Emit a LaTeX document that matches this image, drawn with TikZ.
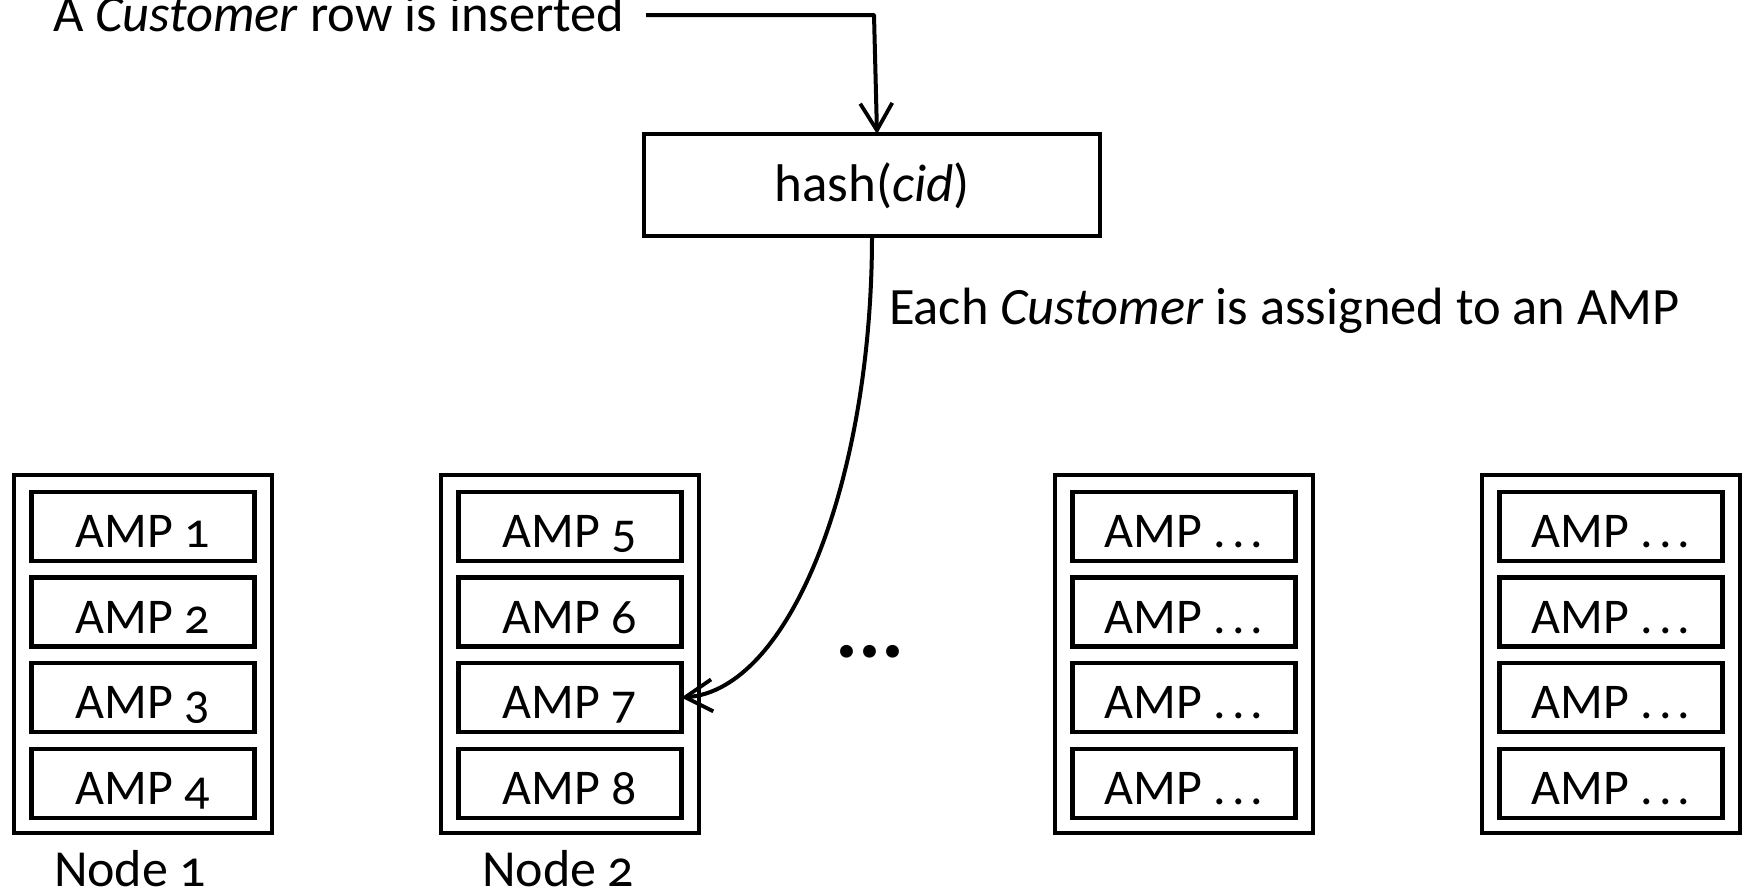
\documentclass[tikz,border=0pt]{standalone}
\usepackage{fontspec}
\setmainfont{Carlito}[Numbers=OldStyle]
\usetikzlibrary{arrows.meta}
\newcommand\ampdots{.\kern6pt.\kern6pt.}

\begin{document}
\begin{tikzpicture}[x=1pt, y=-1pt,
  every node/.style={inner sep=0pt, outer sep=0pt},
  txt/.style={font=\fontsize{52.5}{60}\selectfont},
  server/.style={draw, line width=4.5pt, minimum width=258pt, minimum height=358pt},
  amp/.style={draw, line width=4.5pt, minimum width=223pt, minimum height=69pt,
    font=\fontsize{50}{58}\selectfont, text height=42pt, text depth=0pt},
  hashbox/.style={draw, line width=4.5pt, minimum width=456pt, minimum height=102pt,
    font=\fontsize{53}{60}\selectfont, text height=32pt, text depth=0pt},
  caption/.style={font=\fontsize{52}{60}\selectfont, anchor=base west},
  link/.style={line width=4pt, line join=round,
    -{Straight Barb[length=27pt, width=32pt, line width=3.8pt]}},
]
\useasboundingbox (0,0) rectangle (1742,892);

% incoming row and the hash function
\node[txt, anchor=base west] (ins) at (53,31) {A \textit{Customer} row is inserted};
\coordinate (insout) at (646,15);
\coordinate (bend) at (874,15);
\node[hashbox] (hash) at (872,185) {hash(\textit{cid})};
\draw[link] (insout) -- (bend) -- ([xshift=5pt]hash.north);

% servers with their AMPs
\foreach \nm/\cx in {n1/143, n2/570, n3/1184, n4/1611} {
  \node[server] (\nm) at (\cx,654) {};
}
\foreach \nm/\a/\b/\c/\d in {n1/1/2/3/4, n2/5/6/7/8,
    n3/\ampdots/\ampdots/\ampdots/\ampdots, n4/\ampdots/\ampdots/\ampdots/\ampdots} {
  \node[amp] (\nm a1) at ([yshift=127.5pt]\nm.center) {AMP \a};
  \node[amp] (\nm a2) at ([yshift=42pt]\nm.center) {AMP \b};
  \node[amp] (\nm a3) at ([yshift=-43.5pt]\nm.center) {AMP \c};
  \node[amp] (\nm a4) at ([yshift=-129.5pt]\nm.center) {AMP \d};
}

\node[caption] (cap1) at (54,886) {Node 1};
\node[caption] (cap2) at (482,886) {Node 2};

% more servers in between
\node[font=\fontsize{86}{90}\selectfont\bfseries] (more) at (870,652) {...};

% the hash picks one AMP
\node[txt, anchor=base west] (assign) at (889,324) {Each \textit{Customer} is assigned to an AMP};
\draw[link] (hash.south) .. controls (872,480) and (790,690) .. (n2a3.east);
\end{tikzpicture}
\end{document}
